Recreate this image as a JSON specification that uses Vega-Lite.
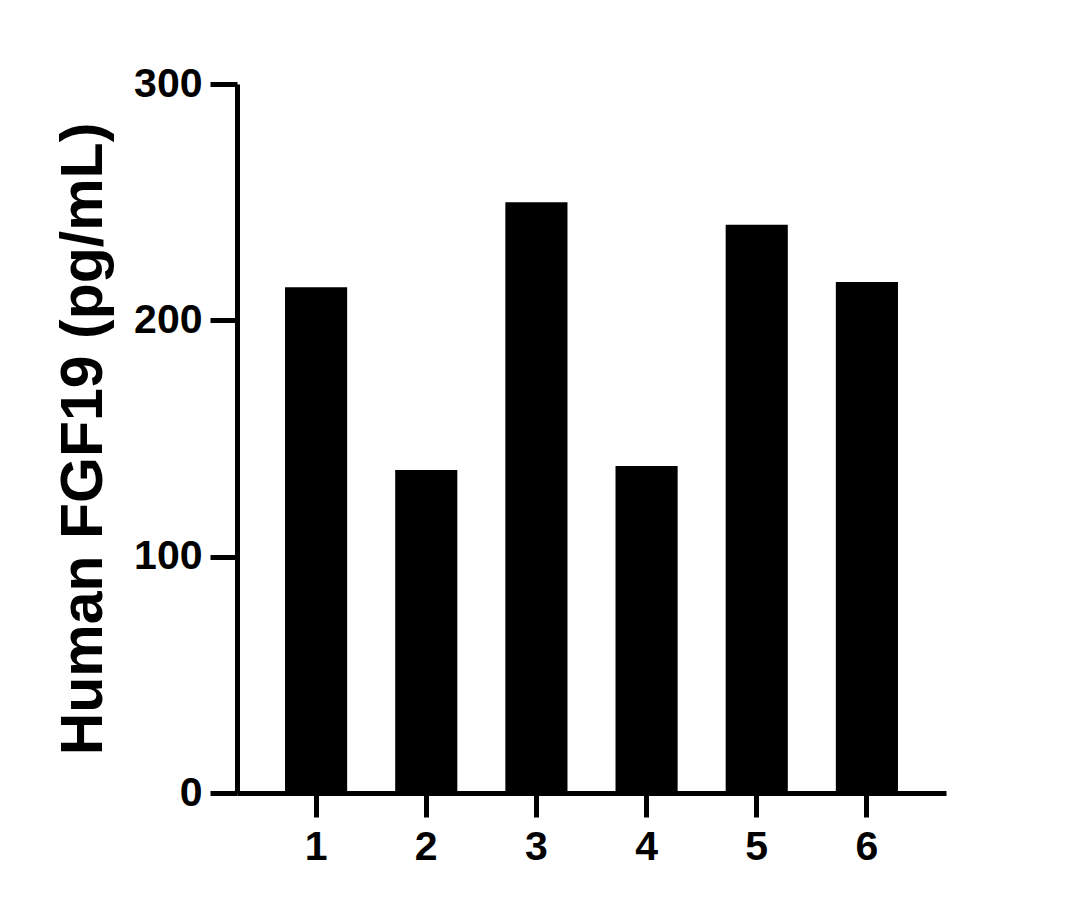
{
  "$schema": "https://vega.github.io/schema/vega-lite/v6.json",
  "width": 709,
  "height": 709,
  "autosize": "none",
  "padding": {"left": 237, "top": 84, "right": 133, "bottom": 117},
  "background": "white",
  "data": {
    "values": [
      {"sample": "1", "value": 214},
      {"sample": "2", "value": 136.7},
      {"sample": "3", "value": 250},
      {"sample": "4", "value": 138.4},
      {"sample": "5", "value": 240.4},
      {"sample": "6", "value": 216.2}
    ]
  },
  "mark": {"type": "bar", "color": "black"},
  "encoding": {
    "x": {
      "field": "sample",
      "type": "nominal",
      "sort": null,
      "scale": {"paddingInner": 0.436, "paddingOuter": 0.436},
      "axis": {
        "title": null,
        "labelAngle": 0,
        "labelFont": "Liberation Sans",
        "labelFontWeight": "bold",
        "labelFontSize": 41,
        "labelColor": "black",
        "labelPadding": 10,
        "tickSize": 24,
        "tickWidth": 5,
        "tickColor": "black",
        "domainWidth": 5,
        "domainColor": "black",
        "grid": false
      }
    },
    "y": {
      "field": "value",
      "type": "quantitative",
      "scale": {"domain": [0, 300], "nice": false, "zero": true},
      "axis": {
        "title": "Human FGF19 (pg/mL)",
        "titleFont": "Liberation Sans",
        "titleFontWeight": "bold",
        "titleFontSize": 59,
        "titleColor": "black",
        "titleX": -136,
        "titleBaseline": "alphabetic",
        "values": [0, 100, 200, 300],
        "labelFont": "Liberation Sans",
        "labelFontWeight": "bold",
        "labelFontSize": 41,
        "labelColor": "black",
        "labelPadding": 8,
        "tickSize": 27,
        "tickWidth": 5,
        "tickColor": "black",
        "domainWidth": 5,
        "domainColor": "black",
        "grid": false
      }
    }
  },
  "config": {"view": {"stroke": null}}
}
